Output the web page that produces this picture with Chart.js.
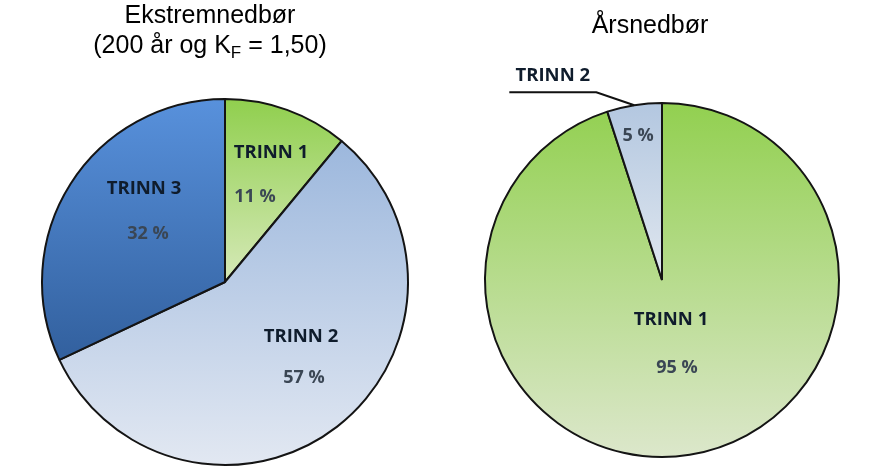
<!DOCTYPE html>
<html>
<head>
<meta charset="utf-8">
<script src="https://cdn.jsdelivr.net/npm/chart.js@4.4.1/dist/chart.umd.min.js"></script>
<style>
  body { margin: 0; background: #fff; }
  #wrap { position: relative; width: 882px; height: 476px; overflow: hidden; }
  canvas { position: absolute; left: 0; top: 0; }
  .title {
    position: absolute; font-family: 'Liberation Sans', Arial, sans-serif;
    font-size: 25px; line-height: 30px; color: #000; text-align: center; white-space: nowrap;
  }
  .title sub { font-size: 17px; line-height: 0; vertical-align: -5px; }
</style>
</head>
<body>
<div id="wrap">
  <canvas id="left" width="882" height="476"></canvas>
  <canvas id="right" width="882" height="476"></canvas>
  <div class="title" style="left:60px;top:-1px;width:300px">Ekstremnedbør<br>(200 år og K<sub>F</sub> = 1,50)</div>
  <div class="title" style="left:500px;top:9px;width:300px">Årsnedbør</div>
</div>
<script>
// data
const extremeLabels = ['TRINN 1', 'TRINN 2', 'TRINN 3'];
const extremeValues = [11, 57, 32];
const annualLabels = ['TRINN 1', 'TRINN 2'];
const annualValues = [95, 5];

// gradient stops per slice (0 = top of pie, 1 = bottom)
const extremeFills = [
  [[0, '#90cf4e'], [0.5, '#d6e9b8'], [1, '#e8f2dc']],
  [[0, '#93b1da'], [1, '#e2e8f2']],
  [[0, '#5891dc'], [0.71, '#32609e'], [1, '#2a5290']],
];
const annualFills = [
  [[0, '#92d050'], [1, '#dce7cb']],
  [[0, '#b3c7e0'], [0.5, '#e0e7ef'], [1, '#eef2f6']],
];

function gradientFill(fills) {
  return (ctx) => {
    const stops = fills[ctx.dataIndex % fills.length];
    const area = ctx.chart.chartArea;
    if (!area) return stops[0][1];
    const g = ctx.chart.ctx.createLinearGradient(0, area.top, 0, area.bottom);
    stops.forEach(([p, c]) => g.addColorStop(p, c));
    return g;
  };
}

// text inside / beside slices, offsets from the pie centre
const pieText = {
  id: 'pieText',
  afterDatasetsDraw(chart, args, opts) {
    const c = chart.ctx;
    const ds = chart.data.datasets[0];
    const total = ds.data.reduce((a, b) => a + b, 0);
    chart.getDatasetMeta(0).data.forEach((arc, i) => {
      const pos = opts.placement[i];
      const name = chart.data.labels[i];
      const pct = Math.round(ds.data[i] / total * 100) + ' %';
      c.save();
      c.textAlign = 'center';
      c.textBaseline = 'middle';
      if (pos.name) {
        c.font = 'bold 18.5px "Open Sans", sans-serif';
        c.fillStyle = '#0f1c2c';
        c.fillText(name, arc.x + pos.name[0], arc.y + pos.name[1]);
      }
      c.font = 'bold 18px "Open Sans", sans-serif';
      c.fillStyle = '#3a4654';
      c.fillText(pct, arc.x + pos.pct[0], arc.y + pos.pct[1]);
      if (pos.callout) {
        const a = (arc.startAngle + arc.endAngle) / 2;
        const x0 = arc.x + Math.cos(a) * arc.outerRadius;
        const y0 = arc.y + Math.sin(a) * arc.outerRadius;
        const x1 = x0 - 38, y1 = y0 - 13;
        const x2 = x1 - 87;
        c.strokeStyle = '#111';
        c.lineWidth = 2;
        c.beginPath();
        c.moveTo(x0, y0);
        c.lineTo(x1, y1);
        c.lineTo(x2, y1);
        c.stroke();
        c.font = 'bold 18.5px "Open Sans", sans-serif';
        c.fillStyle = '#0f1c2c';
        c.fillText(name, (x1 + x2) / 2, y1 - 16);
      }
      c.restore();
    });
  }
};

function makePie(id, labels, values, fills, padding, radius, placement) {
  return new Chart(document.getElementById(id), {
    type: 'pie',
    data: {
      labels: labels,
      datasets: [{
        data: values,
        backgroundColor: gradientFill(fills),
        borderColor: '#141414',
        borderWidth: 2,
        hoverOffset: 0,
      }],
    },
    options: {
      responsive: false,
      animation: false,
      events: [],
      radius: radius,
      layout: { padding: padding },
      plugins: {
        legend: { display: false },
        tooltip: { enabled: false },
        pieText: { placement: placement },
      },
    },
    plugins: [pieText],
  });
}

makePie('left', extremeLabels, extremeValues, extremeFills,
  { left: 42, right: 474, top: 99, bottom: 11 }, 183,
  [
    { name: [46, -129], pct: [30, -85] },
    { name: [76, 55], pct: [79, 96] },
    { name: [-81, -93], pct: [-77, -48] },
  ]);

makePie('right', annualLabels, annualValues, annualFills,
  { left: 485, right: 43, top: 103, bottom: 19 }, 177,
  [
    { name: [9, 40], pct: [15, 88] },
    { pct: [-24, -144], callout: true },
  ]);
</script>
</body>
</html>
